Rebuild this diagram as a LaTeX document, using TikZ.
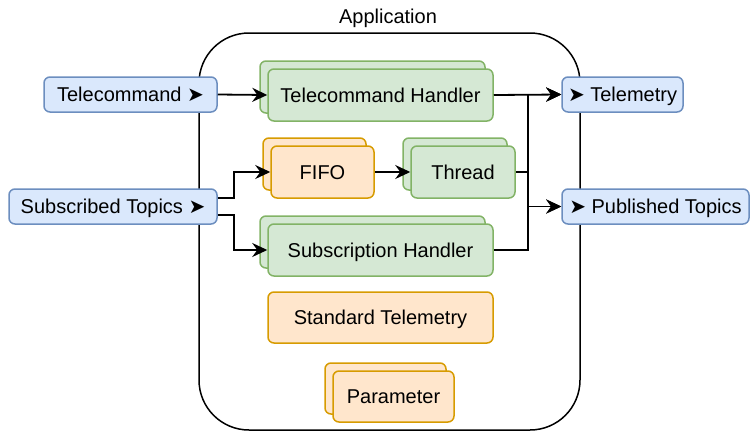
\documentclass[tikz,border=0pt]{standalone}
\usepackage{fontspec}
\setmainfont{Liberation Sans}
\newfontfamily\symfont{DejaVu Sans}
\usetikzlibrary{arrows.meta,shadows}
\definecolor{portFill}{HTML}{DAE8FC}
\definecolor{portDraw}{HTML}{6C8EBF}
\definecolor{taskFill}{HTML}{D5E8D4}
\definecolor{taskDraw}{HTML}{82B366}
\definecolor{dataFill}{HTML}{FFE6CC}
\definecolor{dataDraw}{HTML}{D79B00}

\begin{document}
\begin{tikzpicture}[x=1pt,y=-1pt,font=\fontsize{20}{24}\selectfont,
    box/.style={rectangle,rounded corners=6pt,line width=1.5pt,inner sep=0pt,text height=14.3pt,text depth=0pt},
    port/.style={box,draw=portDraw,fill=portFill,minimum height=35pt},
    task/.style={box,draw=taskDraw,fill=taskFill,minimum height=52pt},
    data/.style={box,draw=dataDraw,fill=dataFill,minimum height=51pt},
    stack/.style={copy shadow={shadow xshift=-8pt,shadow yshift=8pt}},
    link/.style={-{Stealth[length=15pt,width=14pt,inset=5pt]},line width=1.8pt}]
    \useasboundingbox (0,0) rectangle (750,432);

    \node[draw,line width=1.5pt,rounded corners=50pt,minimum width=381pt,minimum height=397pt] (app) at (389.5,231.5) {};
    \node (apptitle) at (388,18) {Application};

    \node[port,minimum width=173pt] (tc) at (130.5,94.5) {Telecommand {\symfont ➤}};
    \node[port,minimum width=208pt] (st) at (113,206.5) {Subscribed Topics {\symfont ➤}};
    \node[port,minimum width=121pt] (tm) at (622.5,94.5) {{\symfont ➤} Telemetry};
    \node[port,minimum width=187pt] (pt) at (655.5,206.5) {{\symfont ➤} Published Topics};

    \node[task,stack,minimum width=225pt] (tch) at (380.5,95) {Telecommand Handler};
    \node[data,stack,minimum width=103pt,minimum height=52pt] (fifo) at (322.5,172) {FIFO};
    \node[task,stack,minimum width=104pt] (thread) at (463,172) {Thread};
    \node[task,stack,minimum width=225pt] (sh) at (380.5,250) {Subscription Handler};
    \node[data,minimum width=225pt] (stdtm) at (380.5,317.5) {Standard Telemetry};
    \node[data,stack,minimum width=121pt] (param) at (393.5,396.5) {Parameter};

    \coordinate (split) at (234,0);
    \coordinate (bus) at (528,0);
    \coordinate (st up) at ([yshift=8.5pt]st.east);
    \coordinate (st down) at ([yshift=-8.5pt]st.east);

    \draw[link](tc.east)--(tch.west);
    \draw[link](tch.east)--(tm.west);
    \draw[link](st up)--(st up -| split)|-(fifo.west);
    \draw[link](st down)--(st down -| split)|-(sh.west);
    \draw[link](fifo.east)--(thread.west);
    \draw[link](thread.east)--(thread.east -| bus)|-(tm.west);
    \draw[link](thread.east -| bus)|-(pt.west);
    \draw[link](sh.east)--(sh.east -| bus)|-(tm.west);
    \draw[link](sh.east -| bus)|-(pt.west);
\end{tikzpicture}
\end{document}
